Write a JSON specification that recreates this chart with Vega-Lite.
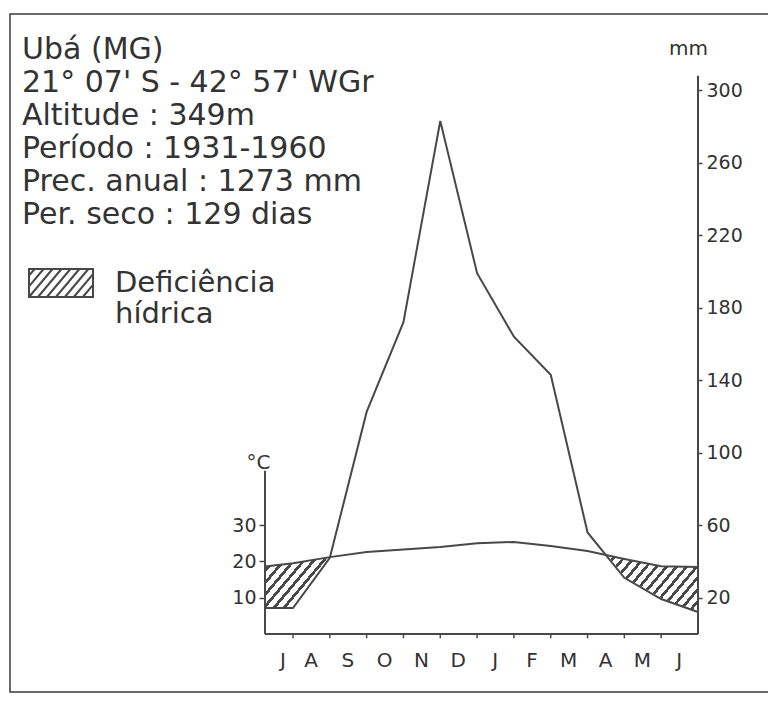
{
  "$schema": "https://vega.github.io/schema/vega-lite/v6.json",
  "autosize": {"type": "none"},
  "padding": {"left": 10, "top": 14, "right": -5, "bottom": 10},
  "width": 763,
  "height": 678,
  "background": "white",
  "config": {
    "font": "DejaVu Sans",
    "view": {"stroke": "#3a3a3a", "strokeWidth": 1.5},
    "axis": {"labelFont": "DejaVu Sans", "titleFont": "DejaVu Sans", "grid": false}
  },
  "title": {
    "text": ["Ubá (MG)", "21° 07' S - 42° 57' WGr", "Altitude : 349m", "Período : 1931-1960", "Prec. anual : 1273 mm", "Per. seco : 129 dias"],
    "orient": "top",
    "anchor": "start",
    "frame": "group",
    "baseline": "top",
    "offset": -216,
    "dx": 12,
    "font": "DejaVu Sans",
    "fontSize": 30,
    "fontWeight": "normal",
    "color": "#333333",
    "lineHeight": 33
  },
  "data": {
    "values": [
      {"m": 0, "mes": "J", "temp": 18.6, "prec": 14.3},
      {"m": 1, "mes": "A", "temp": 19.5, "prec": 14.3},
      {"m": 2, "mes": "S", "temp": 21.2, "prec": 42},
      {"m": 3, "mes": "O", "temp": 22.6, "prec": 122.5},
      {"m": 4, "mes": "N", "temp": 23.3, "prec": 172},
      {"m": 5, "mes": "D", "temp": 24.0, "prec": 283},
      {"m": 6, "mes": "J", "temp": 25.0, "prec": 199},
      {"m": 7, "mes": "F", "temp": 25.4, "prec": 164},
      {"m": 8, "mes": "M", "temp": 24.3, "prec": 143},
      {"m": 9, "mes": "A", "temp": 22.9, "prec": 56},
      {"m": 10, "mes": "M", "temp": 20.7, "prec": 31},
      {"m": 11, "mes": "J", "temp": 18.7, "prec": 19.3},
      {"m": 12, "mes": "", "temp": 18.5, "prec": 12.1}
    ]
  },
  "layer": [
    {
      "transform": [{"filter": "datum.m <= 2"}],
      "mark": {
        "type": "area", "opacity": 1, "strokeWidth": 0,
        "fill": {
          "gradient": "linear", "x1": 0, "y1": 0, "x2": 1, "y2": 1,
          "stops": [
            {"offset": 0, "color": "#484848"}, {"offset": 0.028, "color": "#484848"}, {"offset": 0.028, "color": "#ffffff"}, {"offset": 0.0769, "color": "#ffffff"},
            {"offset": 0.0769, "color": "#484848"}, {"offset": 0.1049, "color": "#484848"}, {"offset": 0.1049, "color": "#ffffff"}, {"offset": 0.1538, "color": "#ffffff"},
            {"offset": 0.1538, "color": "#484848"}, {"offset": 0.1818, "color": "#484848"}, {"offset": 0.1818, "color": "#ffffff"}, {"offset": 0.2308, "color": "#ffffff"},
            {"offset": 0.2308, "color": "#484848"}, {"offset": 0.2588, "color": "#484848"}, {"offset": 0.2588, "color": "#ffffff"}, {"offset": 0.3077, "color": "#ffffff"},
            {"offset": 0.3077, "color": "#484848"}, {"offset": 0.3357, "color": "#484848"}, {"offset": 0.3357, "color": "#ffffff"}, {"offset": 0.3846, "color": "#ffffff"},
            {"offset": 0.3846, "color": "#484848"}, {"offset": 0.4126, "color": "#484848"}, {"offset": 0.4126, "color": "#ffffff"}, {"offset": 0.4615, "color": "#ffffff"},
            {"offset": 0.4615, "color": "#484848"}, {"offset": 0.4895, "color": "#484848"}, {"offset": 0.4895, "color": "#ffffff"}, {"offset": 0.5385, "color": "#ffffff"},
            {"offset": 0.5385, "color": "#484848"}, {"offset": 0.5665, "color": "#484848"}, {"offset": 0.5665, "color": "#ffffff"}, {"offset": 0.6154, "color": "#ffffff"},
            {"offset": 0.6154, "color": "#484848"}, {"offset": 0.6434, "color": "#484848"}, {"offset": 0.6434, "color": "#ffffff"}, {"offset": 0.6923, "color": "#ffffff"},
            {"offset": 0.6923, "color": "#484848"}, {"offset": 0.7203, "color": "#484848"}, {"offset": 0.7203, "color": "#ffffff"}, {"offset": 0.7692, "color": "#ffffff"},
            {"offset": 0.7692, "color": "#484848"}, {"offset": 0.7972, "color": "#484848"}, {"offset": 0.7972, "color": "#ffffff"}, {"offset": 0.8462, "color": "#ffffff"},
            {"offset": 0.8462, "color": "#484848"}, {"offset": 0.8742, "color": "#484848"}, {"offset": 0.8742, "color": "#ffffff"}, {"offset": 0.9231, "color": "#ffffff"},
            {"offset": 0.9231, "color": "#484848"}, {"offset": 0.9511, "color": "#484848"}, {"offset": 0.9511, "color": "#ffffff"}, {"offset": 1, "color": "#ffffff"}
          ]
        }
      },
      "encoding": {
        "x": {"field": "m", "type": "quantitative", "scale": {"domain": [-6.926, 0, 1, 12, 14.037], "range": [0, 255, 283, 688, 763], "nice": false, "zero": false}, "axis": null},
        "y": {"field": "temp", "type": "quantitative", "scale": {"domain": [-16, 171], "nice": false, "zero": false}, "axis": null},
        "y2": {"datum": 0}
      }
    },
    {
      "transform": [{"filter": "datum.m >= 9"}],
      "mark": {
        "type": "area", "opacity": 1, "strokeWidth": 0,
        "fill": {
          "gradient": "linear", "x1": 0, "y1": 0, "x2": 1.17, "y2": 0.74,
          "stops": [
            {"offset": 0, "color": "#484848"}, {"offset": 0.02, "color": "#484848"}, {"offset": 0.02, "color": "#ffffff"}, {"offset": 0.0556, "color": "#ffffff"},
            {"offset": 0.0556, "color": "#484848"}, {"offset": 0.0756, "color": "#484848"}, {"offset": 0.0756, "color": "#ffffff"}, {"offset": 0.1111, "color": "#ffffff"},
            {"offset": 0.1111, "color": "#484848"}, {"offset": 0.1311, "color": "#484848"}, {"offset": 0.1311, "color": "#ffffff"}, {"offset": 0.1667, "color": "#ffffff"},
            {"offset": 0.1667, "color": "#484848"}, {"offset": 0.1867, "color": "#484848"}, {"offset": 0.1867, "color": "#ffffff"}, {"offset": 0.2222, "color": "#ffffff"},
            {"offset": 0.2222, "color": "#484848"}, {"offset": 0.2422, "color": "#484848"}, {"offset": 0.2422, "color": "#ffffff"}, {"offset": 0.2778, "color": "#ffffff"},
            {"offset": 0.2778, "color": "#484848"}, {"offset": 0.2978, "color": "#484848"}, {"offset": 0.2978, "color": "#ffffff"}, {"offset": 0.3333, "color": "#ffffff"},
            {"offset": 0.3333, "color": "#484848"}, {"offset": 0.3533, "color": "#484848"}, {"offset": 0.3533, "color": "#ffffff"}, {"offset": 0.3889, "color": "#ffffff"},
            {"offset": 0.3889, "color": "#484848"}, {"offset": 0.4089, "color": "#484848"}, {"offset": 0.4089, "color": "#ffffff"}, {"offset": 0.4444, "color": "#ffffff"},
            {"offset": 0.4444, "color": "#484848"}, {"offset": 0.4644, "color": "#484848"}, {"offset": 0.4644, "color": "#ffffff"}, {"offset": 0.5, "color": "#ffffff"},
            {"offset": 0.5, "color": "#484848"}, {"offset": 0.52, "color": "#484848"}, {"offset": 0.52, "color": "#ffffff"}, {"offset": 0.5556, "color": "#ffffff"},
            {"offset": 0.5556, "color": "#484848"}, {"offset": 0.5756, "color": "#484848"}, {"offset": 0.5756, "color": "#ffffff"}, {"offset": 0.6111, "color": "#ffffff"},
            {"offset": 0.6111, "color": "#484848"}, {"offset": 0.6311, "color": "#484848"}, {"offset": 0.6311, "color": "#ffffff"}, {"offset": 0.6667, "color": "#ffffff"},
            {"offset": 0.6667, "color": "#484848"}, {"offset": 0.6867, "color": "#484848"}, {"offset": 0.6867, "color": "#ffffff"}, {"offset": 0.7222, "color": "#ffffff"},
            {"offset": 0.7222, "color": "#484848"}, {"offset": 0.7422, "color": "#484848"}, {"offset": 0.7422, "color": "#ffffff"}, {"offset": 0.7778, "color": "#ffffff"},
            {"offset": 0.7778, "color": "#484848"}, {"offset": 0.7978, "color": "#484848"}, {"offset": 0.7978, "color": "#ffffff"}, {"offset": 0.8333, "color": "#ffffff"},
            {"offset": 0.8333, "color": "#484848"}, {"offset": 0.8533, "color": "#484848"}, {"offset": 0.8533, "color": "#ffffff"}, {"offset": 0.8889, "color": "#ffffff"},
            {"offset": 0.8889, "color": "#484848"}, {"offset": 0.9089, "color": "#484848"}, {"offset": 0.9089, "color": "#ffffff"}, {"offset": 0.9444, "color": "#ffffff"},
            {"offset": 0.9444, "color": "#484848"}, {"offset": 0.9644, "color": "#484848"}, {"offset": 0.9644, "color": "#ffffff"}, {"offset": 1, "color": "#ffffff"}
          ]
        }
      },
      "encoding": {
        "x": {"field": "m", "type": "quantitative", "scale": {"domain": [-6.926, 0, 1, 12, 14.037], "range": [0, 255, 283, 688, 763], "nice": false, "zero": false}, "axis": null},
        "y": {"field": "temp", "type": "quantitative", "scale": {"domain": [-16, 171], "nice": false, "zero": false}, "axis": null},
        "y2": {"datum": 0}
      }
    },
    {
      "transform": [{"filter": "datum.m <= 2"}],
      "mark": {"type": "area", "opacity": 1, "stroke": "#ffffff", "strokeWidth": 1.5},
      "encoding": {
        "x": {"field": "m", "type": "quantitative", "scale": {"domain": [-6.926, 0, 1, 12, 14.037], "range": [0, 255, 283, 688, 763], "nice": false, "zero": false}, "axis": null},
        "y": {"field": "prec", "type": "quantitative", "scale": {"domain": [-32, 342], "nice": false, "zero": false}, "axis": null},
        "y2": {"datum": 0},
        "fill": {
          "datum": "Deficiência hídrica",
          "type": "nominal",
          "scale": {"range": ["#ffffff"]},
          "legend": {
            "orient": "none", "legendX": 18, "legendY": 236, "title": null, "padding": 0,
            "symbolType": "M-1,-0.4375H1V0.4375H-1Z M-1,-0.229L-0.825,-0.4375 M-1,0.104L-0.545,-0.4375 M-1,0.4375L-0.265,-0.4375 M-0.72,0.4375L0.015,-0.4375 M-0.44,0.4375L0.295,-0.4375 M-0.16,0.4375L0.575,-0.4375 M0.12,0.4375L0.855,-0.4375 M0.4,0.4375L1,-0.277 M0.68,0.4375L1,0.057",
            "symbolSize": 4096,
            "symbolStrokeColor": "#484848", "symbolStrokeWidth": 2, "symbolFillColor": "#ffffff",
            "labelFont": "DejaVu Sans", "labelFontSize": 29, "labelColor": "#333333", "labelOffset": 21, "labelLimit": 0,
            "labelExpr": "['Deficiência', 'hídrica']",
            "encode": {
              "symbols": {"update": {"stroke": {"value": "#484848"}, "strokeWidth": {"value": 2}, "fill": {"value": "#ffffff"}, "opacity": {"value": 1}}},
              "labels": {"update": {"lineHeight": {"value": 33}, "dy": {"value": -15}}}
            }
          }
        }
      }
    },
    {
      "transform": [{"filter": "datum.m >= 9"}],
      "mark": {"type": "area", "opacity": 1, "stroke": "#ffffff", "strokeWidth": 1.5, "fill": "#ffffff"},
      "encoding": {
        "x": {"field": "m", "type": "quantitative", "scale": {"domain": [-6.926, 0, 1, 12, 14.037], "range": [0, 255, 283, 688, 763], "nice": false, "zero": false}, "axis": null},
        "y": {"field": "prec", "type": "quantitative", "scale": {"domain": [-32, 342], "nice": false, "zero": false}, "axis": null},
        "y2": {"datum": 0}
      }
    },
    {
      "mark": {"type": "line", "stroke": "#484848", "strokeWidth": 2},
      "encoding": {
        "x": {"field": "m", "type": "quantitative", "scale": {"domain": [-6.926, 0, 1, 12, 14.037], "range": [0, 255, 283, 688, 763], "nice": false, "zero": false}, "axis": null},
        "y": {
          "field": "temp", "type": "quantitative",
          "scale": {"domain": [-16, 171], "nice": false, "zero": false},
          "axis": {
            "orient": "left", "offset": -255, "values": [10, 20, 30],
            "title": "°C", "titleAngle": 0, "titleX": -7, "titleY": 448, "titleAlign": "center", "titleBaseline": "middle",
            "titleFontSize": 20, "titleFontWeight": "normal", "titleColor": "#333333",
            "domain": false, "tickSize": 6, "tickWidth": 1.5, "tickColor": "#484848",
            "labelFontSize": 19, "labelColor": "#333333", "labelPadding": 3, "grid": false
          }
        }
      }
    },
    {
      "mark": {"type": "line", "stroke": "#484848", "strokeWidth": 2},
      "encoding": {
        "x": {"field": "m", "type": "quantitative", "scale": {"domain": [-6.926, 0, 1, 12, 14.037], "range": [0, 255, 283, 688, 763], "nice": false, "zero": false}, "axis": null},
        "y": {
          "field": "prec", "type": "quantitative",
          "scale": {"domain": [-32, 342], "nice": false, "zero": false},
          "axis": {
            "orient": "right", "offset": -75, "values": [20, 60, 100, 140, 180, 220, 260, 300],
            "title": "mm", "titleAngle": 0, "titleX": -10, "titleY": 34, "titleAlign": "center", "titleBaseline": "middle",
            "titleFontSize": 20, "titleFontWeight": "normal", "titleColor": "#333333",
            "domain": false, "tickSize": 4, "tickWidth": 1.5, "tickColor": "#484848",
            "labelFontSize": 19, "labelColor": "#333333", "labelPadding": 4, "grid": false
          }
        }
      }
    },
    {
      "transform": [{"filter": "datum.m >= 1 && datum.m <= 11"}],
      "mark": {"type": "rule", "stroke": "#484848", "strokeWidth": 1.5},
      "encoding": {
        "x": {"field": "m", "type": "quantitative", "scale": {"domain": [-6.926, 0, 1, 12, 14.037], "range": [0, 255, 283, 688, 763], "nice": false, "zero": false}, "axis": null},
        "y": {"datum": 0, "type": "quantitative", "scale": {"domain": [-32, 342], "nice": false, "zero": false}, "axis": null},
        "y2": {"datum": -2.4}
      }
    },
    {
      "transform": [{"filter": "datum.m <= 11"}],
      "mark": {"type": "text", "align": "center", "baseline": "top", "dx": 18, "dy": 17, "font": "DejaVu Sans", "fontSize": 20, "color": "#333333"},
      "encoding": {
        "x": {"field": "m", "type": "quantitative", "scale": {"domain": [-6.926, 0, 1, 12, 14.037], "range": [0, 255, 283, 688, 763], "nice": false, "zero": false}, "axis": null},
        "y": {"datum": 0, "type": "quantitative", "scale": {"domain": [-32, 342], "nice": false, "zero": false}, "axis": null},
        "text": {"field": "mes", "type": "nominal"}
      }
    },
    {
      "data": {"values": [{}]},
      "mark": {"type": "rule", "stroke": "#484848", "strokeWidth": 2},
      "encoding": {
        "x": {"datum": 0, "type": "quantitative", "scale": {"domain": [-6.926, 0, 1, 12, 14.037], "range": [0, 255, 283, 688, 763], "nice": false, "zero": false}, "axis": null},
        "x2": {"datum": 12},
        "y": {"datum": 0, "type": "quantitative", "scale": {"domain": [-32, 342], "nice": false, "zero": false}, "axis": null}
      }
    },
    {
      "data": {"values": [{}]},
      "mark": {"type": "rule", "stroke": "#484848", "strokeWidth": 2},
      "encoding": {
        "x": {"datum": 12, "type": "quantitative", "scale": {"domain": [-6.926, 0, 1, 12, 14.037], "range": [0, 255, 283, 688, 763], "nice": false, "zero": false}, "axis": null},
        "y": {"datum": 0, "type": "quantitative", "scale": {"domain": [-32, 342], "nice": false, "zero": false}, "axis": null},
        "y2": {"datum": 308}
      }
    },
    {
      "data": {"values": [{}]},
      "mark": {"type": "rule", "stroke": "#484848", "strokeWidth": 2},
      "encoding": {
        "x": {"datum": 0, "type": "quantitative", "scale": {"domain": [-6.926, 0, 1, 12, 14.037], "range": [0, 255, 283, 688, 763], "nice": false, "zero": false}, "axis": null},
        "y": {"datum": 0, "type": "quantitative", "scale": {"domain": [-32, 342], "nice": false, "zero": false}, "axis": null},
        "y2": {"datum": 90}
      }
    }
  ],
  "resolve": {"scale": {"y": "independent"}}
}
